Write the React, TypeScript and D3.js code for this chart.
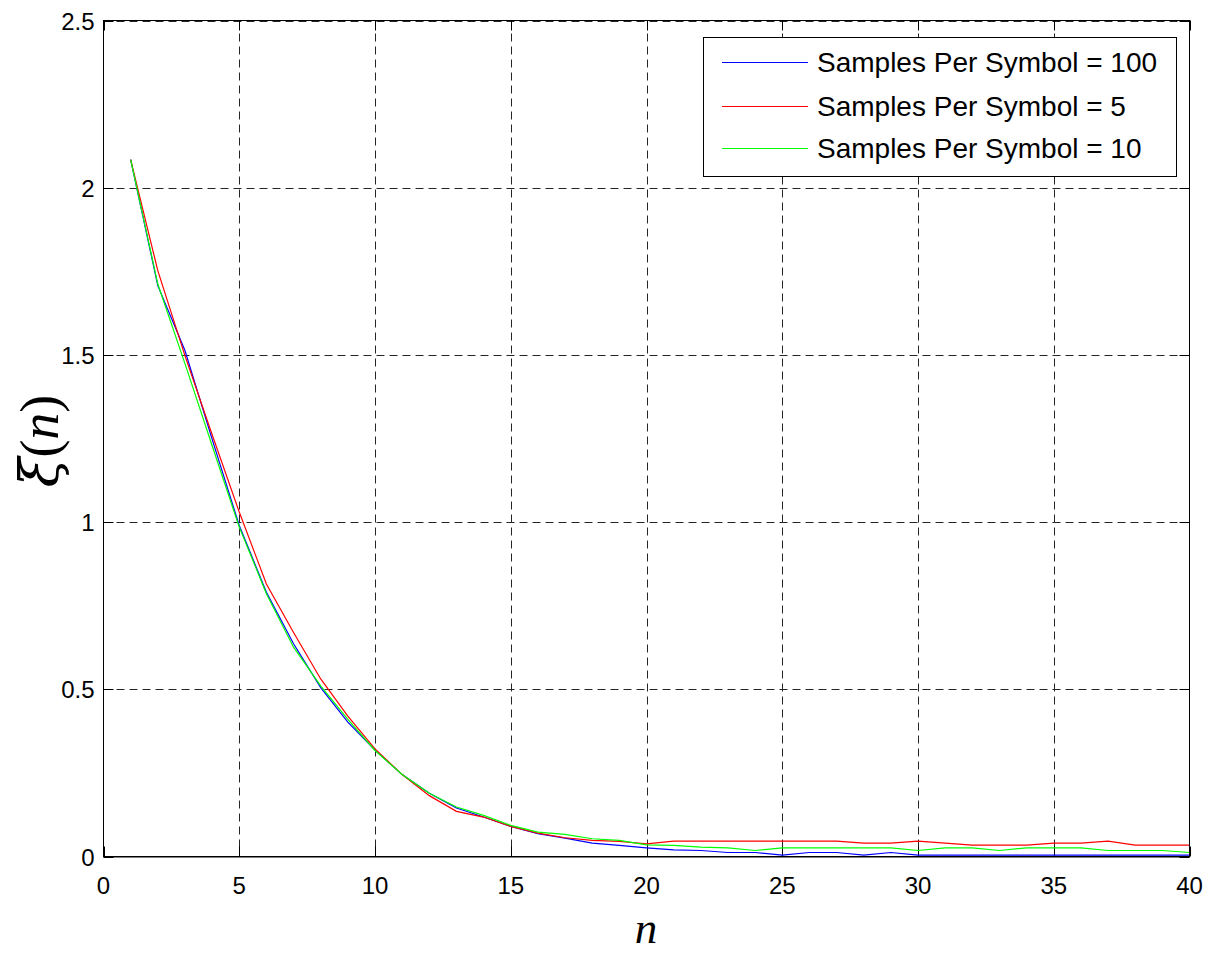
import React from "react";
import * as d3 from "d3";

const nValues: number[] = d3.range(1, 41);

const sps100: number[] = [
  2.084, 1.707, 1.513, 1.248, 0.99, 0.79, 0.636, 0.505, 0.402, 0.318,
  0.245, 0.189, 0.145, 0.118, 0.09, 0.068, 0.055, 0.04, 0.033, 0.026,
  0.02, 0.018, 0.012, 0.012, 0.004, 0.012, 0.012, 0.004, 0.012, 0.004,
  0.004, 0.004, 0.004, 0.004, 0.004, 0.004, 0.004, 0.004, 0.004, 0.004,
];
const sps5: number[] = [
  2.084, 1.752, 1.498, 1.262, 1.03, 0.815, 0.67, 0.531, 0.42, 0.322,
  0.245, 0.182, 0.135, 0.118, 0.09, 0.07, 0.056, 0.048, 0.045, 0.038,
  0.046, 0.046, 0.046, 0.046, 0.046, 0.046, 0.046, 0.04, 0.04, 0.046,
  0.04, 0.034, 0.034, 0.034, 0.04, 0.04, 0.046, 0.034, 0.034, 0.034,
];
const sps10: number[] = [
  2.084, 1.712, 1.474, 1.229, 0.985, 0.786, 0.626, 0.51, 0.41, 0.317,
  0.245, 0.189, 0.148, 0.123, 0.093, 0.073, 0.066, 0.053, 0.048, 0.035,
  0.033, 0.028, 0.026, 0.018, 0.026, 0.026, 0.026, 0.026, 0.026, 0.018,
  0.026, 0.026, 0.018, 0.026, 0.026, 0.026, 0.018, 0.018, 0.018, 0.012,
];

const seriesNames: string[] = [
  "Samples Per Symbol = 100",
  "Samples Per Symbol = 5",
  "Samples Per Symbol = 10",
];
const seriesColors: string[] = ["#0000ff", "#ff0000", "#00ff00"];
const seriesData: number[][] = [sps100, sps5, sps10];

const xTicks: number[] = [0, 5, 10, 15, 20, 25, 30, 35, 40];
const yTicks: number[] = [0, 0.5, 1, 1.5, 2, 2.5];

export default function App() {
  const W = 1216;
  const H = 953;
  const left = 103.5;
  const right = 1189.5;
  const top = 20.5;
  const bottom = 856.5;
  const x = d3.scaleLinear().domain([0, 40]).range([left, right]);
  const y = d3.scaleLinear().domain([0, 2.5]).range([bottom, top]);
  const line = d3
    .line<number>()
    .x((_, i) => x(nValues[i]))
    .y((d) => y(d));

  const tickLen = 10;
  const fontTick = "Liberation Sans, Arial, sans-serif";

  const lgX0 = 703.5;
  const lgX1 = 1176.5;
  const lgY0 = 37.5;
  const lgY1 = 176.5;
  const rowY = [62, 106, 148];

  return (
    <svg
      width={W}
      height={H}
      style={{ position: "absolute", left: 0, top: 0, background: "#fff" }}
    >
      <rect x={0} y={0} width={W} height={H} fill="#fff" />
      <g stroke="#000" strokeWidth={1} strokeDasharray="8,5" opacity={0.85}>
        {xTicks.slice(1, -1).map((t) => (
          <line key={"gx" + t} x1={Math.round(x(t)) + 0.5} x2={Math.round(x(t)) + 0.5} y1={top} y2={bottom} />
        ))}
        {yTicks.slice(1, -1).map((t) => (
          <line key={"gy" + t} x1={left} x2={right} y1={Math.round(y(t)) + 0.5} y2={Math.round(y(t)) + 0.5} />
        ))}
        <line x1={left} x2={right} y1={top + 1} y2={top + 1} />
      </g>
      <g stroke="#000" strokeWidth={1}>
        {xTicks.map((t) => (
          <g key={"tx" + t}>
            <line x1={Math.round(x(t)) + 0.5} x2={Math.round(x(t)) + 0.5} y1={bottom} y2={bottom - tickLen} />
            <line x1={Math.round(x(t)) + 0.5} x2={Math.round(x(t)) + 0.5} y1={top} y2={top + tickLen} />
          </g>
        ))}
        {yTicks.map((t) => (
          <g key={"ty" + t}>
            <line x1={left} x2={left + tickLen} y1={Math.round(y(t)) + 0.5} y2={Math.round(y(t)) + 0.5} />
            <line x1={right} x2={right - tickLen} y1={Math.round(y(t)) + 0.5} y2={Math.round(y(t)) + 0.5} />
          </g>
        ))}
      </g>
      <g fill="none" strokeWidth={1.2}>
        {seriesData.map((s, i) => (
          <path key={"s" + i} d={line(s) || ""} stroke={seriesColors[i]} />
        ))}
      </g>
      <rect x={left} y={top} width={right - left} height={bottom - top} fill="none" stroke="#000" strokeWidth={1} />
      <line x1={left} x2={right} y1={bottom + 0.5} y2={bottom + 0.5} stroke="#000" strokeWidth={1} />
      <g fontFamily={fontTick} fontSize={24} fill="#000">
        {xTicks.map((t) => (
          <text key={"lx" + t} x={x(t)} y={bottom + 37} textAnchor="middle">
            {d3.format("d")(t)}
          </text>
        ))}
        {yTicks.map((t) => (
          <text key={"ly" + t} x={left - 9} y={y(t) + 9} textAnchor="end">
            {String(t)}
          </text>
        ))}
      </g>
      <text
        x={646}
        y={943}
        textAnchor="middle"
        fontFamily="Liberation Serif, Times New Roman, serif"
        fontStyle="italic"
        fontSize={45}
        fill="#000"
      >
        n
      </text>
      <text
        transform="translate(58,441) rotate(-90)"
        textAnchor="middle"
        fontFamily="DejaVu Serif, Liberation Serif, serif"
        fontSize={54}
        fill="#000"
      >
        <tspan fontStyle="italic">ξ</tspan>
        <tspan fontFamily="Liberation Serif, serif">(</tspan>
        <tspan fontFamily="Liberation Serif, serif" fontStyle="italic">n</tspan>
        <tspan fontFamily="Liberation Serif, serif">)</tspan>
      </text>
      <rect x={lgX0} y={lgY0} width={lgX1 - lgX0} height={lgY1 - lgY0} fill="#fff" stroke="#000" strokeWidth={1} />
      {seriesNames.map((name, i) => (
        <g key={"lg" + i}>
          <line x1={722} x2={808} y1={rowY[i] + 0.5} y2={rowY[i] + 0.5} stroke={seriesColors[i]} strokeWidth={1} />
          <text x={817} y={rowY[i] + 10} fontFamily={fontTick} fontSize={28} fill="#000">
            {name}
          </text>
        </g>
      ))}
    </svg>
  );
}
